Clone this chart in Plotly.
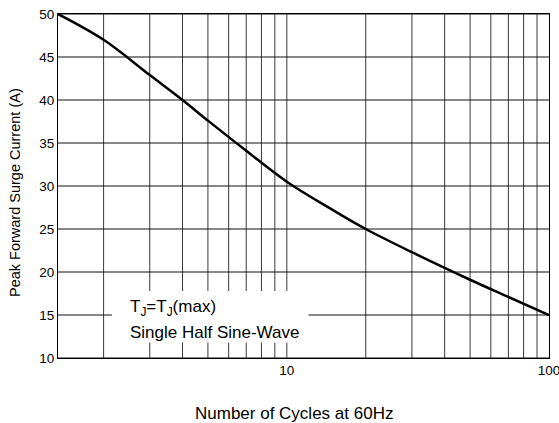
import math
import plotly.graph_objects as go

cycles = [1.34, 2, 3, 4, 5, 7, 10, 15, 20, 30, 50, 70, 100]
current = [50, 47, 42.9, 40, 37.6, 34.1, 30.5, 27.2, 25, 22.3, 19.1, 17.1, 15]
x_grid = [2, 3, 4, 5, 6, 7, 8, 9, 10, 20, 30, 40, 50, 60, 70, 80, 90]
x_ticks = [10, 100]
y_ticks = [10, 15, 20, 25, 30, 35, 40, 45, 50]

FONT = "Liberation Sans, Arial, sans-serif"
L, R, T, B = 58, 10, 14, 65
PW, PH = 559 - L - R, 423 - T - B

fig = go.Figure()
fig.add_trace(go.Scatter(x=cycles, y=current, mode="lines",
                         line=dict(color="black", width=2.5, shape="spline", smoothing=1.0),
                         hoverinfo="skip", showlegend=False))

shapes = []
for xv in x_grid:
    shapes.append(dict(type="line", xref="x", yref="paper", x0=xv, x1=xv, y0=0, y1=1,
                       line=dict(color="#3a3a3a", width=1), layer="below"))
for yv in y_ticks:
    shapes.append(dict(type="line", xref="paper", yref="y", x0=0, x1=1, y0=yv, y1=yv,
                       line=dict(color="#111", width=1), layer="below"))
# white box behind the note
shapes.append(dict(type="rect", xref="x", yref="y", x0=2.15, x1=12.1, y0=11.8, y1=17.8,
                   fillcolor="white", line=dict(width=0), layer="below"))

fig.update_layout(
    width=559, height=423,
    margin=dict(l=L, r=R, t=T, b=B, autoexpand=False),
    paper_bgcolor="white", plot_bgcolor="rgba(0,0,0,0)",
    font=dict(family=FONT, color="black", size=13),
    shapes=shapes,
    xaxis=dict(type="log", range=[math.log10(1.34), 2],
               tickvals=x_ticks, ticktext=[str(v) for v in x_ticks],
               showgrid=False, zeroline=False, ticks="", automargin=False,
               showline=True, linecolor="black", linewidth=1, mirror=True,
               ticklabeloverflow="allow",
               tickfont=dict(size=13.5)),
    yaxis=dict(range=[10, 50], tickvals=y_ticks,
               showgrid=False, zeroline=False, ticks="", automargin=False,
               showline=True, linecolor="black", linewidth=1, mirror=True,
               tickfont=dict(size=13.5)),
    annotations=[
        dict(xref="paper", yref="paper", x=(128 - L) / PW, y=(358 - 308) / PH,
             xanchor="left", yanchor="middle", showarrow=False,
             text="T<sub>J</sub>=T<sub>J</sub>(max)", font=dict(size=17)),
        dict(xref="paper", yref="paper", x=(128 - L) / PW, y=(358 - 332) / PH,
             xanchor="left", yanchor="middle", showarrow=False,
             text="Single Half Sine-Wave", font=dict(size=17)),
        dict(xref="paper", yref="paper", x=(294 - L) / PW, y=(358 - 413) / PH,
             xanchor="center", yanchor="middle", showarrow=False,
             text="Number of Cycles at 60Hz", font=dict(size=17)),
        dict(xref="paper", yref="paper", x=(15 - L) / PW, y=(358 - 193) / PH,
             xanchor="center", yanchor="middle", showarrow=False, textangle=-90,
             text="Peak Forward Surge Current (A)", font=dict(size=14.5)),
    ],
)

fig.write_html("out.html", config={"displayModeBar": False},
               post_script="document.body.style.margin='0';document.body.style.padding='0';")
